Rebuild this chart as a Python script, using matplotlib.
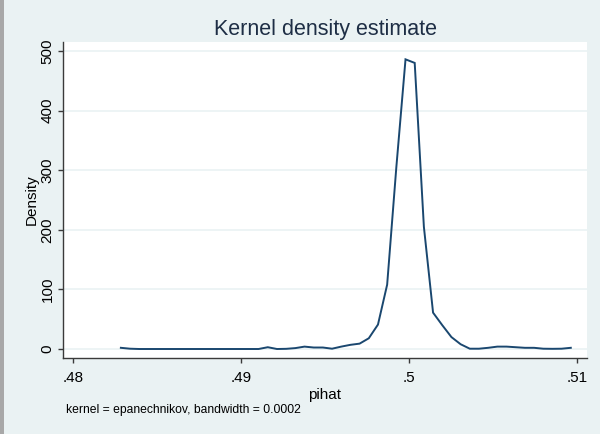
import numpy as np
import matplotlib
matplotlib.use("Agg")
import matplotlib.pyplot as plt
from matplotlib.patches import Rectangle

# evaluation grid (50 points, Stata kdensity default)
x_start = 0.48285
x_end = 0.50963
n_points = 50
pihat = np.linspace(x_start, x_end, n_points)

density = [2, 0.5, 0, 0, 0, 0, 0, 0, 0, 0,
           0, 0, 0, 0, 0, 0, 3, 0, 0.3, 1.5,
           4, 2.5, 2.5, 0.5, 4, 7, 9, 18, 41, 108,
           305, 486, 480, 205, 61, 40, 20, 8, 0.5, 0.5,
           2, 4, 4, 3, 2, 2, 0.5, 0.3, 0.5, 2]

xticks = [0.48, 0.49, 0.50, 0.51]
xticklabels = [".48", ".49", ".5", ".51"]
yticks = [0, 100, 200, 300, 400, 500]
yticklabels = ["0", "100", "200", "300", "400", "500"]

title = "Kernel density estimate"
xlabel = "pihat"
ylabel = "Density"
note = "kernel = epanechnikov, bandwidth = 0.0002"

plt.rcParams['font.family'] = ['Liberation Sans', 'DejaVu Sans']

bg = "#EAF2F3"
line_col = "#1A476F"
axis_col = "#3A3A3A"
text_col = "#1E2E45"

W, H = 600, 434
fig = plt.figure(figsize=(6, 4.34), dpi=100, facecolor=bg)
L, R, T, B = 63, 587, 42, 358
ax = fig.add_axes([L / W, 1 - B / H, (R - L) / W, (B - T) / H])
ax.set_facecolor("white")

ax.plot(pihat, density, color=line_col, lw=1.4, solid_joinstyle='miter')

ax.set_xlim(0.479406, 0.510594)
ax.set_ylim(-15.1, 515.1)

ax.set_yticks(yticks)
ax.set_yticklabels(yticklabels, rotation=90, va='center')
ax.set_xticks(xticks)
ax.set_xticklabels(xticklabels)

ax.grid(axis='y', color=bg, lw=1.2)
ax.set_axisbelow(True)

for s in ['top', 'right']:
    ax.spines[s].set_visible(False)
for s in ['left', 'bottom']:
    ax.spines[s].set_color(axis_col)
    ax.spines[s].set_linewidth(1.0)

ax.tick_params(axis='both', direction='out', length=3.6, width=1.0,
               color=axis_col, labelsize=11, labelcolor='black')
ax.tick_params(axis='x', pad=5.4)
ax.tick_params(axis='y', pad=2.5)

ax.set_ylabel(ylabel, fontsize=11, color='black')
ax.yaxis.set_label_coords((32 - L) / (R - L), 0.5)
ax.set_xlabel(xlabel, fontsize=11, color='black')
ax.xaxis.set_label_coords(0.5, (B - 395) / (B - T))
ax.xaxis.label.set_va('center')
ax.yaxis.label.set_va('center')

fig.text((L + R) / 2 / W, 1 - 29 / H, title, fontsize=15.5, color=text_col,
         ha='center', va='center')
fig.text(66 / W, 1 - 410 / H, note, fontsize=8.7, color='black',
         ha='left', va='center')

fig.patches.append(Rectangle((0, 0), 4 / W, 1, transform=fig.transFigure,
                             facecolor="#A8A8A8", edgecolor='none', zorder=10))

fig.savefig("out.png", dpi=100, facecolor=bg)
